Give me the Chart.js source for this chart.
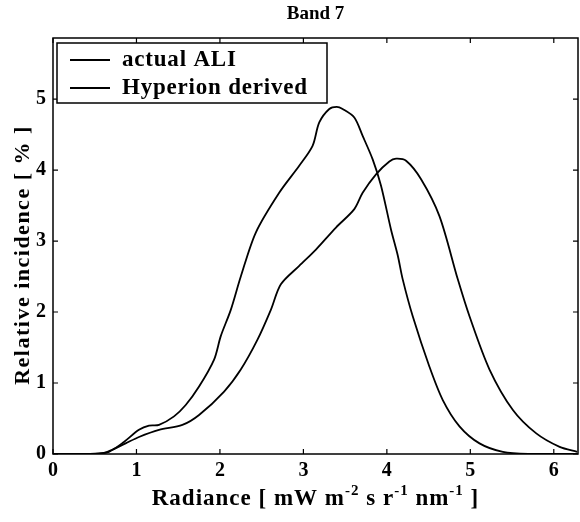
<!doctype html>
<html lang="en">
<head>
<meta charset="utf-8">
<style>
  html, body { margin: 0; padding: 0; background: #fff; }
  #wrap { width: 580px; height: 522px; }
</style>
</head>
<body>
<div id="wrap">
    <canvas id="myChart" width="580" height="522"></canvas>
</div>

<script src="https://cdn.jsdelivr.net/npm/chart.js"></script>
<script>
// Radiance histograms, band 7
const aliX = [0.0, 0.3, 0.55, 0.67, 0.85, 1.03, 1.15, 1.27, 1.45, 1.59, 1.75, 1.93, 2.01, 2.13, 2.25, 2.43, 2.71, 2.95, 3.11, 3.19, 3.31, 3.40, 3.47, 3.61, 3.71, 3.83, 3.93, 4.05, 4.13, 4.19, 4.31, 4.51, 4.67, 4.87, 5.11, 5.39, 5.7, 6.28];
const aliY = [0, 0, 0.01, 0.03, 0.17, 0.34, 0.40, 0.41, 0.53, 0.69, 0.95, 1.33, 1.66, 2.03, 2.50, 3.12, 3.68, 4.06, 4.34, 4.67, 4.86, 4.89, 4.86, 4.74, 4.48, 4.15, 3.78, 3.16, 2.80, 2.46, 1.94, 1.23, 0.76, 0.39, 0.15, 0.03, 0, 0];

const hypX = [0.0, 0.3, 0.6, 0.71, 0.87, 1.03, 1.27, 1.55, 1.75, 2.05, 2.25, 2.45, 2.61, 2.73, 2.95, 3.15, 3.39, 3.61, 3.71, 3.87, 4.03, 4.11, 4.23, 4.41, 4.63, 4.85, 4.99, 5.23, 5.51, 5.79, 6.07, 6.28];
const hypY = [0, 0, 0.01, 0.06, 0.15, 0.24, 0.34, 0.41, 0.55, 0.88, 1.19, 1.61, 2.03, 2.39, 2.65, 2.88, 3.19, 3.45, 3.68, 3.94, 4.12, 4.16, 4.13, 3.87, 3.35, 2.46, 1.94, 1.19, 0.62, 0.29, 0.10, 0.03];

const xTicks = [0, 1, 2, 3, 4, 5, 6];
const yTicks = [0, 1, 2, 3, 4, 5];
const seriesNames = ['actual ALI', 'Hyperion derived'];

const serif = '"Liberation Serif", "DejaVu Serif", serif';

function toPoints(xs, ys) {
    return xs.map((x, i) => ({ x: x, y: ys[i] }));
}

// frame, inward ticks, title, axis titles and legend box
const decor = {
    id: 'decor',
    afterDraw(chart) {
        const c = chart.ctx;
        const a = chart.chartArea;
        const xs = chart.scales.x;
        const ys = chart.scales.y;
        c.save();
        c.strokeStyle = '#000';
        c.lineWidth = 1.5;
        c.strokeRect(a.left, a.top, a.right - a.left, a.bottom - a.top);

        c.lineWidth = 1.2;
        c.beginPath();
        xTicks.forEach(v => {
            const px = xs.getPixelForValue(v);
            c.moveTo(px, a.bottom); c.lineTo(px, a.bottom - 5);
            c.moveTo(px, a.top); c.lineTo(px, a.top + 5);
        });
        yTicks.forEach(v => {
            const py = ys.getPixelForValue(v);
            c.moveTo(a.left, py); c.lineTo(a.left + 5, py);
            c.moveTo(a.right, py); c.lineTo(a.right - 5, py);
        });
        c.stroke();

        c.fillStyle = '#000';
        // title
        c.font = 'bold 19px ' + serif;
        c.textAlign = 'center';
        c.textBaseline = 'middle';
        c.fillText('Band 7', (a.left + a.right) / 2, 14);

        // y axis title
        c.save();
        c.translate(23, 255);
        c.rotate(-Math.PI / 2);
        c.font = 'bold 22px ' + serif;
        c.letterSpacing = '1.5px';
        c.fillText('Relative incidence [ % ]', 0, 0);
        c.restore();

        // x axis title with superscripts
        const parts = [
            ['Radiance [ mW m', false], ['-2', true], [' s r', false], ['-1', true],
            [' nm', false], ['-1', true], [' ]', false]
        ];
        const big = 'bold 23px ' + serif;
        const small = 'bold 15px ' + serif;
        c.letterSpacing = '1px';
        let total = 0;
        parts.forEach(p => { c.font = p[1] ? small : big; total += c.measureText(p[0]).width; });
        let x = (a.left + a.right) / 2 - total / 2;
        const base = 505;
        c.textAlign = 'left';
        c.textBaseline = 'alphabetic';
        parts.forEach(p => {
            c.font = p[1] ? small : big;
            c.fillText(p[0], x, p[1] ? base - 10 : base);
            x += c.measureText(p[0]).width;
        });

        // legend
        const lx = a.left + 4, ly = a.top + 5, lw = 270, lh = 60;
        c.fillStyle = '#fff';
        c.fillRect(lx, ly, lw, lh);
        c.lineWidth = 1.5;
        c.strokeRect(lx, ly, lw, lh);
        c.fillStyle = '#000';
        c.font = 'bold 23px ' + serif;
        c.letterSpacing = '0.8px';
        c.textBaseline = 'middle';
        chart.data.datasets.forEach((ds, i) => {
            const yy = ly + 17 + i * 28;
            c.lineWidth = ds.borderWidth;
            c.beginPath();
            c.moveTo(lx + 13, yy); c.lineTo(lx + 53, yy);
            c.stroke();
            c.fillText(ds.label, lx + 65, yy);
        });
        c.restore();
    }
};

new Chart(document.getElementById('myChart'), {
    type: 'line',
    data: {
        datasets: [{
            label: seriesNames[0],
            data: toPoints(aliX, aliY),
            borderColor: '#000',
            borderWidth: 1.8,
            pointRadius: 0,
            tension: 0.3
        }, {
            label: seriesNames[1],
            data: toPoints(hypX, hypY),
            borderColor: '#000',
            borderWidth: 1.8,
            pointRadius: 0,
            tension: 0.3
        }]
    },
    options: {
        responsive: false,
        animation: false,
        layout: { padding: { top: 38, right: 2, left: 0, bottom: 0 } },
        plugins: {
            legend: { display: false },
            tooltip: { enabled: false }
        },
        scales: {
            x: {
                type: 'linear',
                min: 0,
                max: 6.29,
                afterBuildTicks: s => { s.ticks = xTicks.map(v => ({ value: v })); },
                afterFit: s => { s.height = 68; },
                grid: { display: false, drawTicks: false, tickLength: 0 },
                border: { display: false },
                ticks: {
                    color: '#000',
                    padding: 5,
                    maxRotation: 0,
                    font: { family: serif, size: 20, weight: 'bold' }
                }
            },
            y: {
                min: 0,
                max: 5.86,
                afterBuildTicks: s => { s.ticks = yTicks.map(v => ({ value: v })); },
                afterFit: s => { s.width = 53; },
                grid: { display: false, drawTicks: false, tickLength: 0 },
                border: { display: false },
                ticks: {
                    color: '#000',
                    padding: 7,
                    font: { family: serif, size: 20, weight: 'bold' }
                }
            }
        }
    },
    plugins: [decor]
});
</script>
</body>
</html>
